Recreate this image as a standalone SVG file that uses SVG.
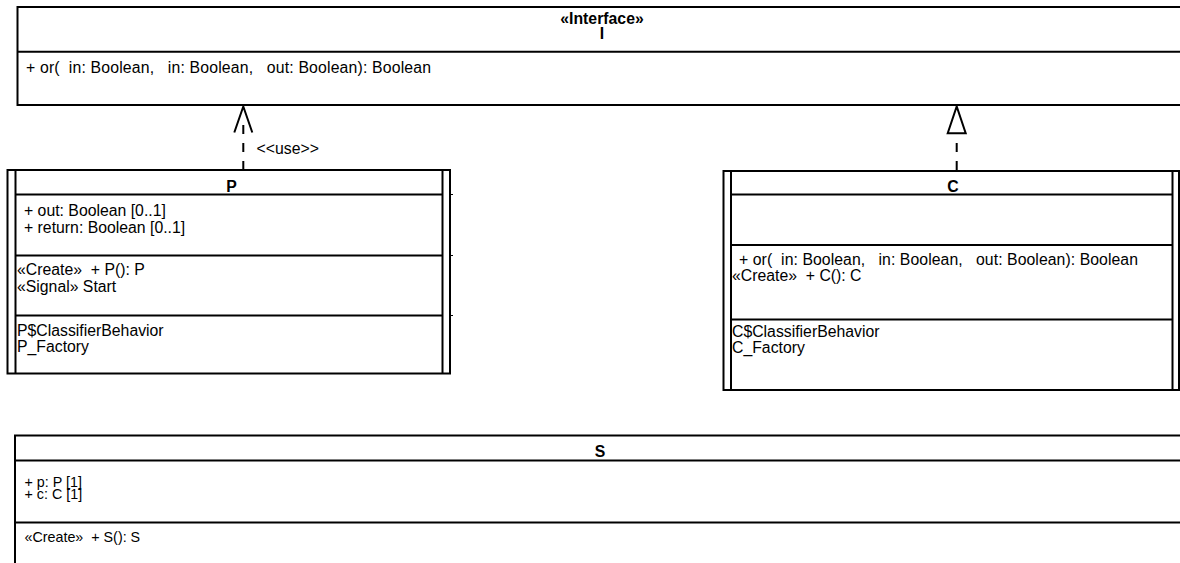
<svg xmlns="http://www.w3.org/2000/svg" width="1180" height="563" viewBox="0 0 1180 563">
<style>
.box{fill:#fff;stroke:#000;stroke-width:2}
.ln{stroke:#000;stroke-width:2;fill:none}
.tk{stroke:#000;stroke-width:1;fill:none}
.t{font-family:"Liberation Sans",Arial,sans-serif;font-size:15.8px;fill:#000;white-space:pre}
.ts{font-family:"Liberation Sans",Arial,sans-serif;font-size:14.3px;fill:#000;white-space:pre}
.b{font-weight:bold;text-anchor:middle}
.dash{stroke:#000;stroke-width:2;fill:none;stroke-dasharray:9 9}
</style>
<rect width="1180" height="563" fill="#fff"/>
<g id="connectors">
  <g id="use-P-I">
    <line class="dash" x1="243.3" y1="170" x2="243.3" y2="125"/>
    <polyline class="ln" points="234.3,132.5 243.3,106.5 252.3,132.5"/>
    <text class="t" x="256.5" y="154">&lt;&lt;use&gt;&gt;</text>
  </g>
  <g id="real-C-I">
    <line class="dash" x1="956.7" y1="170" x2="956.7" y2="133"/>
    <polygon class="ln" points="947.7,133.3 956.7,106.5 965.7,133.3" fill="#fff"/>
  </g>
</g>
<g id="node-I">
  <rect class="box" x="17.5" y="7" width="1175" height="98"/>
  <line class="ln" x1="17.5" y1="51.7" x2="1192" y2="51.7"/>
  <text class="t b" x="602" y="24">«Interface»</text>
  <text class="t b" x="602" y="39">I</text>
  <text class="t" x="26" y="73" textLength="405" lengthAdjust="spacing">+ or(  in: Boolean,   in: Boolean,   out: Boolean): Boolean</text>
</g>
<g id="node-P">
  <rect class="box" x="7.5" y="170" width="442.5" height="203.5"/>
  <line class="ln" x1="15.5" y1="170" x2="15.5" y2="373.5"/>
  <line class="ln" x1="442.5" y1="170" x2="442.5" y2="373.5"/>
  <line class="ln" x1="15.5" y1="194.5" x2="442.5" y2="194.5"/>
  <line class="ln" x1="15.5" y1="255.5" x2="442.5" y2="255.5"/>
  <line class="ln" x1="15.5" y1="315.5" x2="442.5" y2="315.5"/>
  <line class="tk" x1="450" y1="194.5" x2="453" y2="194.5"/>
  <line class="tk" x1="450" y1="255.5" x2="453" y2="255.5"/>
  <line class="tk" x1="450" y1="315.5" x2="453" y2="315.5"/>
  <text class="t b" x="231.5" y="191.5">P</text>
  <text class="t" x="24" y="216">+ out: Boolean [0..1]</text>
  <text class="t" x="24" y="232.5">+ return: Boolean [0..1]</text>
  <text class="t" x="17" y="275">«Create»  + P(): P</text>
  <text class="t" x="17" y="291.5">«Signal» Start</text>
  <text class="t" x="17" y="335.5">P$ClassifierBehavior</text>
  <text class="t" x="17" y="352">P_Factory</text>
</g>
<g id="node-C">
  <rect class="box" x="723.5" y="171" width="455.5" height="219"/>
  <line class="ln" x1="731" y1="171" x2="731" y2="390"/>
  <line class="ln" x1="1172.5" y1="171" x2="1172.5" y2="390"/>
  <line class="ln" x1="731" y1="194.5" x2="1172.5" y2="194.5"/>
  <line class="ln" x1="731" y1="245" x2="1172.5" y2="245"/>
  <line class="ln" x1="731" y1="319.5" x2="1172.5" y2="319.5"/>
  <text class="t b" x="953" y="191.5">C</text>
  <text class="t" x="739" y="264.5" textLength="399" lengthAdjust="spacing">+ or(  in: Boolean,   in: Boolean,   out: Boolean): Boolean</text>
  <text class="t" x="732" y="281">«Create»  + C(): C</text>
  <text class="t" x="732" y="336.5">C$ClassifierBehavior</text>
  <text class="t" x="732" y="353">C_Factory</text>
</g>
<g id="node-S">
  <rect class="box" x="15" y="435.5" width="1180" height="140"/>
  <line class="ln" x1="15" y1="460.5" x2="1195" y2="460.5"/>
  <line class="ln" x1="15" y1="522.5" x2="1195" y2="522.5"/>
  <text class="t b" x="600" y="457">S</text>
  <text class="ts" x="24.5" y="487">+ p: P [1]</text>
  <text class="ts" x="24.5" y="499">+ c: C [1]</text>
  <text class="ts" x="24.5" y="542">«Create»  + S(): S</text>
</g>
</svg>
